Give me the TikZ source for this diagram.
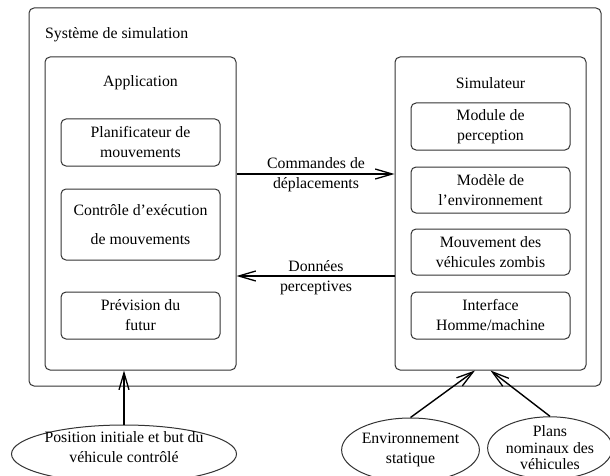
\documentclass[tikz,border=0pt]{standalone}
\usepackage{fontspec}
\setmainfont{Liberation Serif}
\usetikzlibrary{arrows.meta,shapes.geometric}
\begin{document}
\begin{tikzpicture}[x=1pt,y=-1pt,
  font=\fontsize{15.8}{20}\selectfont,
  frame/.style={draw=black!80,line width=1pt,rounded corners=5pt,inner sep=0pt},
  part/.style={frame,minimum width=159pt,align=center},
  label/.style={inner sep=0pt,align=center},
  oval/.style={draw=black!80,line width=1pt,ellipse,inner sep=0pt,align=center},
  flow/.style={draw=black,line width=1.4pt,-{Straight Barb[length=17pt,width=10pt,line width=1.3pt]}}]
\useasboundingbox (0,0) rectangle (610,476);

% overall system frame
\node[frame,minimum width=572pt,minimum height=378pt] (sys) at (315,197) {};
\node[label,anchor=west] (systitle) at (45,35) {Système de simulation};

% application side
\node[frame,minimum width=191pt,minimum height=313pt] (app) at (140.5,213.5) {};
\node[label] (apptitle) at (140.5,83) {Application};
\node[part,minimum height=47pt] (plan) at (140.5,142.5) {Planificateur de\\mouvements};
\node[part,minimum height=71pt] (ctrl) at (140.5,224.5) {Contrôle d’exécution\\[9pt]de mouvements};
\node[part,minimum height=47pt] (prev) at (140.5,315.5) {Prévision du\\futur};

% simulator side
\node[frame,minimum width=191pt,minimum height=313pt] (sim) at (490.5,213.5) {};
\node[label] (simtitle) at (490.5,83) {Simulateur};
\node[part,minimum height=47pt] (perc) at (490.5,126.5) {Module de\\perception};
\node[part,minimum height=46pt] (envmod) at (490.5,190) {Modèle de\\l’environnement};
\node[part,minimum height=46pt] (zomb) at (490.5,252) {Mouvement des\\véhicules zombis};
\node[part,minimum height=47pt] (hmi) at (490.5,315.5) {Interface\\Homme/machine};

% exchanges between application and simulator
\draw[flow] (app.east |- 0,174) -- (sim.west |- 0,174);
\node[label] (cmd) at (316,175) {Commandes de\\déplacements};
\draw[flow] (sim.west |- 0,276) -- (app.east |- 0,276);
\node[label] (data) at (316,277.5) {Données\\perceptives};

% external inputs
\node[oval,minimum width=225pt,minimum height=58pt] (goal) at (124,454) {};
\node[label] (goaltext) at (124,447.5) {Position initiale et but du\\véhicule contrôlé};
\node[oval,minimum width=128pt,minimum height=64pt] (statenv) at (410.5,450) {Environnement\\statique};
\node[oval,minimum width=118pt,minimum height=62pt,font=\fontsize{15.8}{16.5}\selectfont] (plans) at (550,448) {Plans\\nominaux des\\véhicules};

\draw[flow] (goal.north) -- (goal.north |- app.south);
\draw[flow] (statenv.north) -- ([xshift=-15.5pt]sim.south);
\draw[flow] (plans.north) -- (sim.south);
\end{tikzpicture}
\end{document}
